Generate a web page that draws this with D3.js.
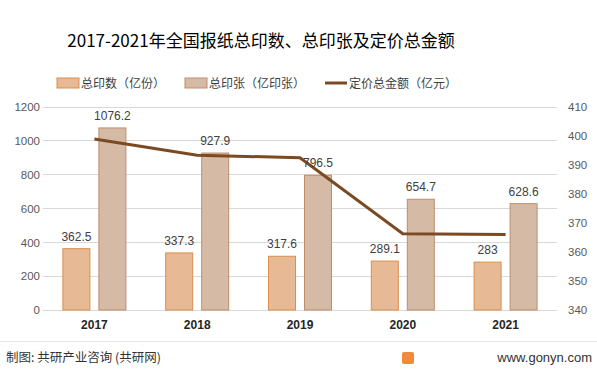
<!DOCTYPE html>
<html><head><meta charset="utf-8">
<script src="https://cdn.jsdelivr.net/npm/d3@7/dist/d3.min.js"></script>
<style>body{margin:0;background:#fff}svg{display:block}</style>
</head><body><svg id="c" width="597" height="375"></svg>
<script>
const years = ["2017","2018","2019","2020","2021"];
const prints = [362.5, 337.3, 317.6, 289.1, 283];
const sheets = [1076.2, 927.9, 796.5, 654.7, 628.6];
const amount = [399.0, 393.4, 392.5, 366.3, 366.0];
const leftTicks = [0,200,400,600,800,1000,1200];
const rightTicks = [340,350,360,370,380,390,400,410];

const svg = d3.select("#c");
const F = "'Noto Sans CJK SC','Noto Sans',sans-serif";
const N = "'Liberation Sans','DejaVu Sans',sans-serif";

const x0 = d3.scaleBand().domain(years).range([43,557]);
const yL = d3.scaleLinear().domain([0,1200]).range([310,107]);
const yR = d3.scaleLinear().domain([340,410]).range([310,107]);

// gridlines
svg.append("g").selectAll("line").data(leftTicks).join("line")
  .attr("x1",43).attr("x2",557).attr("y1",d=>yL(d)).attr("y2",d=>yL(d))
  .attr("stroke","#d9d9d9").attr("stroke-width",1).attr("shape-rendering","crispEdges");

// axes
const axL = d3.axisLeft(yL).tickValues(leftTicks).tickFormat(d3.format("d")).tickSize(0).tickPadding(0);
const gL = svg.append("g").attr("transform","translate(40,0)").call(axL);
gL.select(".domain").remove();
gL.selectAll("text").attr("font-family",N).attr("font-size",11.5).attr("fill","#595959");

const axR = d3.axisRight(yR).tickValues(rightTicks).tickFormat(d3.format("d")).tickSize(0).tickPadding(0);
const gR = svg.append("g").attr("transform","translate(568,0)").call(axR);
gR.select(".domain").remove();
gR.selectAll("text").attr("font-family",N).attr("font-size",11.5).attr("fill","#595959");

const axB = d3.axisBottom(x0).tickSize(0).tickPadding(0);
const gB = svg.append("g").attr("transform","translate(0,320)").call(axB);
gB.select(".domain").remove();
gB.selectAll("text").attr("font-family",N).attr("font-size",12).attr("font-weight","bold").attr("fill","#262626");

const bw = 27, gap = 9;
const cx = d => x0(d) + x0.bandwidth()/2;

svg.append("g").selectAll("rect").data(years).join("rect")
  .attr("x",d=>cx(d)-gap/2-bw).attr("width",bw)
  .attr("y",(d,i)=>yL(prints[i])).attr("height",(d,i)=>yL(0)-yL(prints[i]))
  .attr("fill","#E7B994").attr("stroke","#D98F4E").attr("stroke-width",1);
svg.append("g").selectAll("rect").data(years).join("rect")
  .attr("x",d=>cx(d)+gap/2).attr("width",bw)
  .attr("y",(d,i)=>yL(sheets[i])).attr("height",(d,i)=>yL(0)-yL(sheets[i]))
  .attr("fill","#D5BBA5").attr("stroke","#BF8C69").attr("stroke-width",1);

// line
const line = d3.line().x((d,i)=>cx(years[i])).y(d=>yR(d));
svg.append("path").datum(amount).attr("d",line).attr("fill","none")
  .attr("stroke","#7B4A22").attr("stroke-width",3);

// labels
svg.append("g").selectAll("text").data(years).join("text")
  .attr("x",d=>cx(d)-gap/2-bw/2).attr("y",(d,i)=>yL(prints[i])-8)
  .attr("text-anchor","middle").attr("font-family",N).attr("font-size",12).attr("fill","#404040")
  .text((d,i)=>prints[i]);
svg.append("g").selectAll("text").data(years).join("text")
  .attr("x",d=>cx(d)+gap/2+bw/2).attr("y",(d,i)=>yL(sheets[i])-8)
  .attr("text-anchor","middle").attr("font-family",N).attr("font-size",12).attr("fill","#404040")
  .text((d,i)=>sheets[i]);

// title
svg.append("text").attr("x",261).attr("y",47).attr("text-anchor","middle")
  .attr("font-family",F).attr("font-size",17).attr("fill","#000")
  .text("2017-2021年全国报纸总印数、总印张及定价总金额");

// legend
const lg = svg.append("g").attr("font-family",F).attr("font-size",12).attr("fill","#404040");
lg.append("rect").attr("x",57).attr("y",78).attr("width",22).attr("height",10).attr("fill","#E7B994").attr("stroke","#D98F4E");
lg.append("text").attr("x",81).attr("y",88).text("总印数（亿份）");
lg.append("rect").attr("x",185).attr("y",78).attr("width",22).attr("height",10).attr("fill","#D5BBA5").attr("stroke","#BF8C69");
lg.append("text").attr("x",209).attr("y",88).text("总印张（亿印张）");
lg.append("line").attr("x1",325).attr("x2",347).attr("y1",83).attr("y2",83).attr("stroke","#7B4A22").attr("stroke-width",3);
lg.append("text").attr("x",349).attr("y",88).text("定价总金额（亿元）");

// footer
svg.append("line").attr("x1",0).attr("x2",597).attr("y1",341.5).attr("y2",341.5).attr("stroke","#e6e6e6");
svg.append("text").attr("x",6).attr("y",362).attr("font-family",F).attr("font-size",12.5).attr("fill","#333").text("制图: 共研产业咨询 (共研网)");
svg.append("rect").attr("x",402).attr("y",352).attr("width",12).attr("height",12).attr("rx",2).attr("fill","#F08A3C");
svg.append("text").attr("x",592).attr("y",362).attr("text-anchor","end").attr("font-family",N).attr("font-size",13).attr("fill","#333").text("www.gonyn.com");
</script></body></html>
